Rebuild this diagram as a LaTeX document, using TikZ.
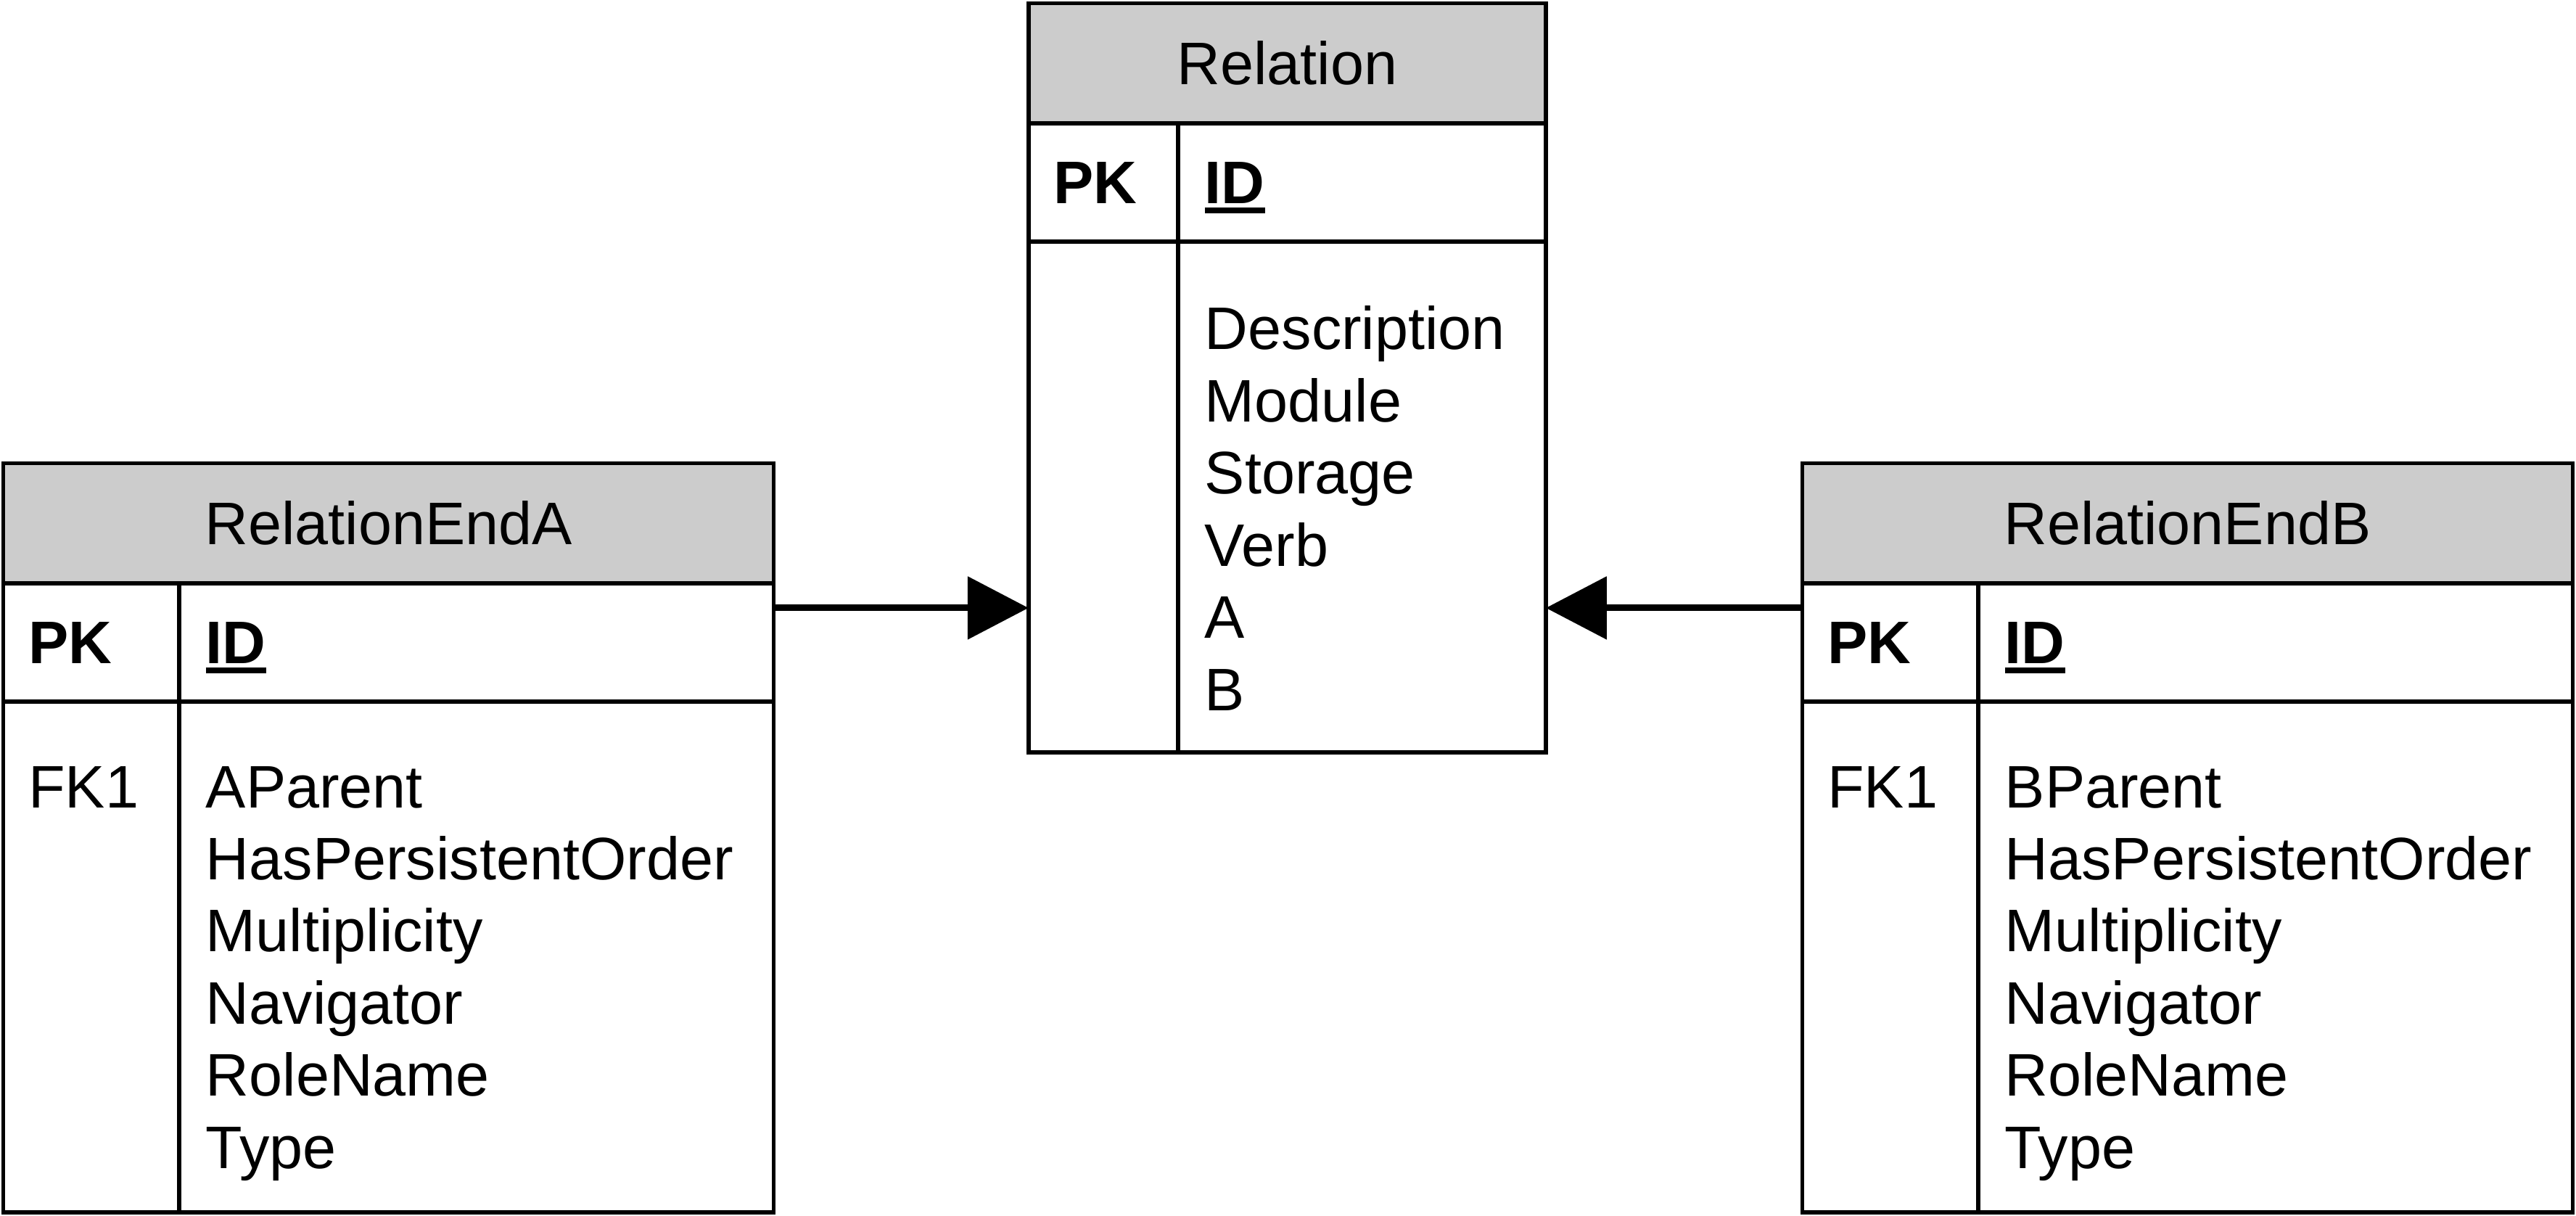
\documentclass[tikz,border=0pt]{standalone}
\usepackage{fontspec}
\setmainfont{Liberation Sans}
\usetikzlibrary{positioning,arrows.meta,calc}
\newcommand{\entityfont}{\fontsize{20.8pt}{25pt}\selectfont}
\newcommand{\keyname}[1]{\setbox0\hbox{#1}\rlap{\rule[-0.155em]{\wd0}{0.093em}}\box0}

\begin{document}
\begin{tikzpicture}[
    x=0.02cm, y=-0.02cm,
    thead/.style={rectangle, draw, line width=1.4pt, fill=black!20, inner sep=0pt, outer sep=0pt,
        minimum height=1.46cm, font=\entityfont},
    tkeys/.style={rectangle, draw, line width=1.4pt, inner sep=0pt, outer sep=0pt, minimum height=1.44cm},
    tfields/.style={rectangle, draw, line width=1.4pt, inner sep=0pt, outer sep=0pt, minimum height=6.22cm},
    keytag/.style={anchor=base west, inner sep=0pt, font=\entityfont\bfseries},
    fieldlist/.style={anchor=north west, inner sep=0pt, align=left, font=\entityfont},
    colline/.style={line width=1.4pt},
    link/.style={line width=2.3pt, -{Triangle[length=0.74cm, width=0.75cm]}},
]
\useasboundingbox (0,0) rectangle (1568,740);

% Relation
\node[thead, minimum width=6.3cm] (relHead) at (783.5,38.5) {Relation};
\node[tkeys, minimum width=6.3cm, below=0pt of relHead] (relKeys) {};
\node[tfields, minimum width=6.3cm, below=0pt of relKeys] (relBody) {};
\coordinate (relCol) at ($(relKeys.north west)+(91,0)$);
\draw[colline] (relCol) -- (relCol |- relBody.south);
\node[keytag] (relPK) at ($(relKeys.west)+(15,13)$) {PK};
\node[keytag] (relID) at ($(relCol |- relKeys.west)+(16,13)$) {\keyname{ID}};
\node[fieldlist] (relList) at ($(relCol |- relBody.north)+(16,39)$)
    {Description\\Module\\Storage\\Verb\\A\\B};

% RelationEndA
\node[thead, minimum width=9.38cm] (endAHead) at (236.5,318.5) {RelationEndA};
\node[tkeys, minimum width=9.38cm, below=0pt of endAHead] (endAKeys) {};
\node[tfields, minimum width=9.38cm, below=0pt of endAKeys] (endABody) {};
\coordinate (endACol) at ($(endAKeys.north west)+(107,0)$);
\draw[colline] (endACol) -- (endACol |- endABody.south);
\node[keytag] (endAPK) at ($(endAKeys.west)+(15,13)$) {PK};
\node[keytag] (endAID) at ($(endACol |- endAKeys.west)+(16,13)$) {\keyname{ID}};
\node[fieldlist] (endAFK) at ($(endABody.north west)+(15,39)$) {FK1};
\node[fieldlist] (endAList) at ($(endACol |- endABody.north)+(16,39)$)
    {AParent\\HasPersistentOrder\\Multiplicity\\Navigator\\RoleName\\Type};

% RelationEndB
\node[thead, minimum width=9.38cm] (endBHead) at (1331.5,318.5) {RelationEndB};
\node[tkeys, minimum width=9.38cm, below=0pt of endBHead] (endBKeys) {};
\node[tfields, minimum width=9.38cm, below=0pt of endBKeys] (endBBody) {};
\coordinate (endBCol) at ($(endBKeys.north west)+(107,0)$);
\draw[colline] (endBCol) -- (endBCol |- endBBody.south);
\node[keytag] (endBPK) at ($(endBKeys.west)+(15,13)$) {PK};
\node[keytag] (endBID) at ($(endBCol |- endBKeys.west)+(16,13)$) {\keyname{ID}};
\node[fieldlist] (endBFK) at ($(endBBody.north west)+(15,39)$) {FK1};
\node[fieldlist] (endBList) at ($(endBCol |- endBBody.north)+(16,39)$)
    {BParent\\HasPersistentOrder\\Multiplicity\\Navigator\\RoleName\\Type};

% links
\coordinate (aOut) at ($(endAKeys.north east)+(0,15)$);
\coordinate (bOut) at ($(endBKeys.north west)+(0,15)$);
\draw[link] (aOut) -- (aOut -| relBody.west);
\draw[link] (bOut) -- (bOut -| relBody.east);
\end{tikzpicture}
\end{document}
